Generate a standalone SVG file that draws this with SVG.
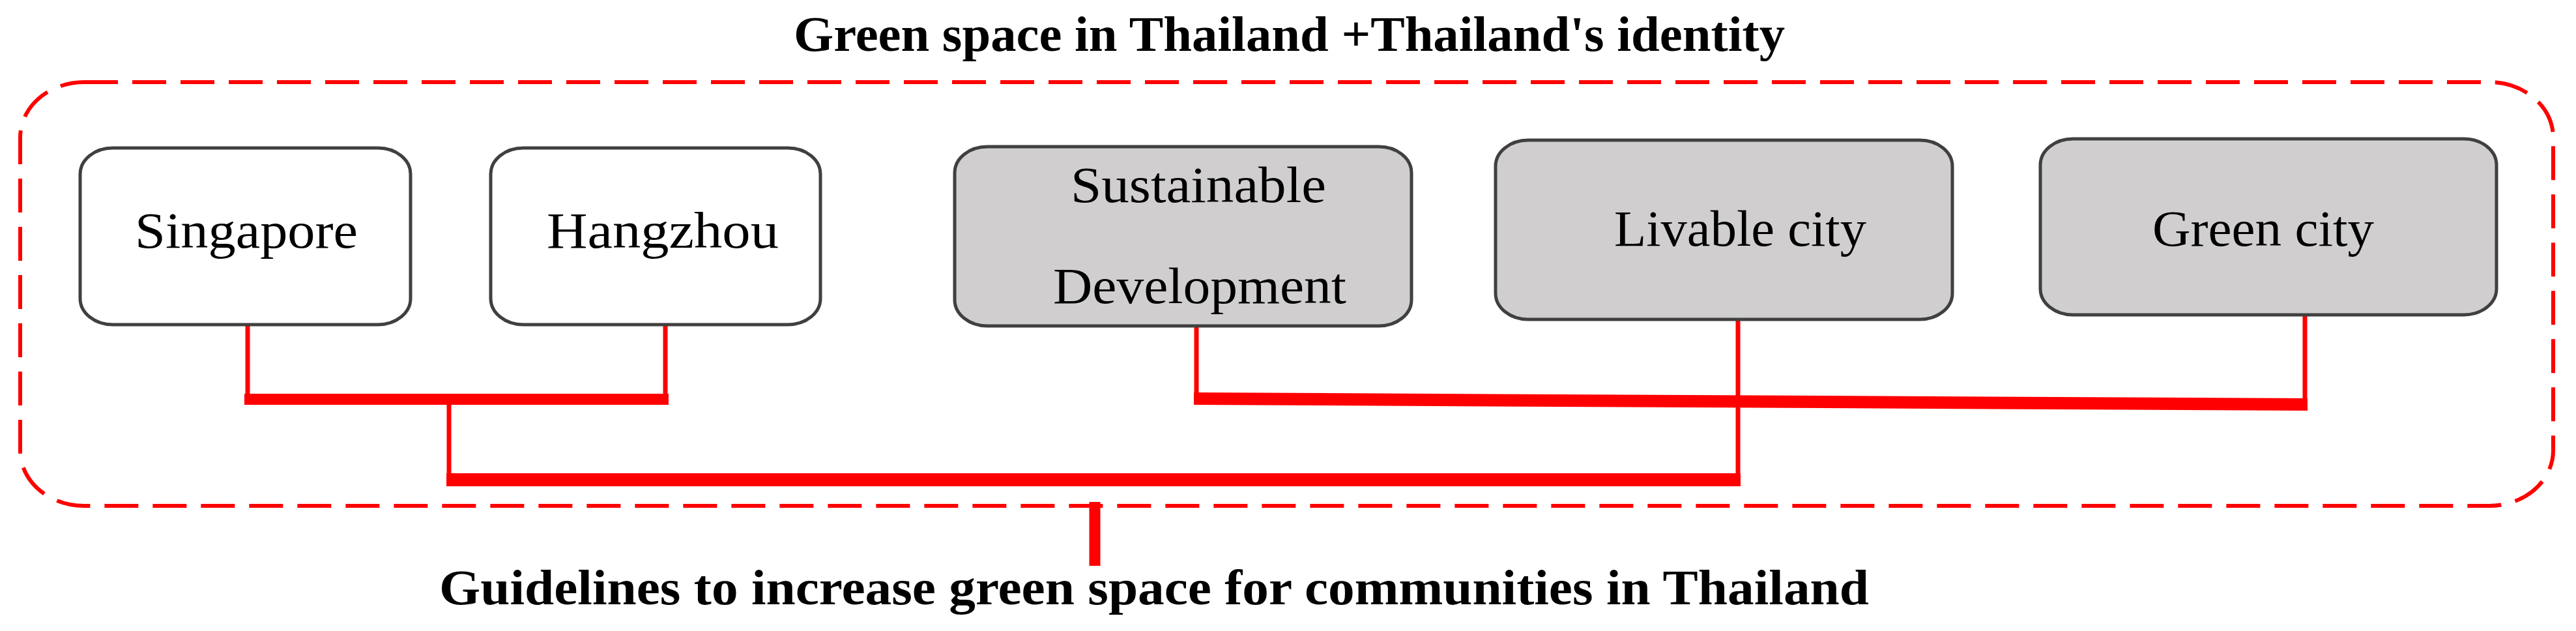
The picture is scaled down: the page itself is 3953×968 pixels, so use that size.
<svg xmlns="http://www.w3.org/2000/svg" width="3953" height="968" viewBox="0 0 3953 968">
<style>
.node{stroke:#404040;stroke-width:5}
.white{fill:#ffffff}
.gray{fill:#d0cece}
.lbl{font-family:"Liberation Serif","Times New Roman",serif;font-size:78px;fill:#000}
.ttl{font-family:"Liberation Serif","Times New Roman",serif;font-size:77px;font-weight:bold;fill:#000}
.thin{stroke:#ff0000;stroke-width:7;fill:none}
.bar{fill:#ff0000}
</style>
<rect width="3953" height="968" fill="#ffffff"/>
<g id="title">
<text class="ttl" x="1218" y="78" textLength="1521" lengthAdjust="spacingAndGlyphs">Green space in Thailand +Thailand's identity</text>
</g>
<g id="frame">
<rect x="31" y="126" width="3887" height="650" rx="98" ry="85" fill="none" stroke="#ff0000" stroke-width="6" stroke-dasharray="52 22"/>
</g>
<g id="connectors">
<line class="thin" x1="380" y1="498" x2="380" y2="612"/>
<line class="thin" x1="1021" y1="498" x2="1021" y2="612"/>
<rect class="bar" x="375" y="604" width="651" height="17"/>
<line class="thin" x1="689" y1="618" x2="689" y2="736"/>
<rect class="bar" x="685" y="726" width="1986" height="20"/>
<line class="thin" x1="1836" y1="500" x2="1836" y2="612"/>
<polygon class="bar" points="1832,602 3541,611 3541,630 1832,621"/>
<line class="thin" x1="3537" y1="483" x2="3537" y2="620"/>
<line class="thin" x1="2667" y1="490" x2="2667" y2="740"/>
<line x1="1680" y1="770" x2="1680" y2="868" stroke="#ff0000" stroke-width="17"/>
</g>
<g id="node-singapore">
<rect class="node white" x="123" y="227" width="507" height="271" rx="50" ry="40"/>
<text class="lbl" x="207" y="380" textLength="342" lengthAdjust="spacingAndGlyphs">Singapore</text>
</g>
<g id="node-hangzhou">
<rect class="node white" x="753" y="227" width="506" height="271" rx="50" ry="40"/>
<text class="lbl" x="839" y="380" textLength="356" lengthAdjust="spacingAndGlyphs">Hangzhou</text>
</g>
<g id="node-sustainable">
<rect class="node gray" x="1465" y="225" width="701" height="275" rx="50" ry="40"/>
<text class="lbl" x="1643" y="310" textLength="392" lengthAdjust="spacingAndGlyphs">Sustainable</text>
<text class="lbl" x="1616" y="465" textLength="450" lengthAdjust="spacingAndGlyphs">Development</text>
</g>
<g id="node-livable">
<rect class="node gray" x="2295" y="215" width="701" height="275" rx="50" ry="40"/>
<text class="lbl" x="2477" y="377" textLength="387" lengthAdjust="spacingAndGlyphs">Livable city</text>
</g>
<g id="node-greencity">
<rect class="node gray" x="3131" y="213" width="700" height="270" rx="50" ry="40"/>
<text class="lbl" x="3303" y="377" textLength="340" lengthAdjust="spacingAndGlyphs">Green city</text>
</g>
<g id="output">
<text class="ttl" x="674" y="927" textLength="2194" lengthAdjust="spacingAndGlyphs">Guidelines to increase green space for communities in Thailand</text>
</g>
</svg>
